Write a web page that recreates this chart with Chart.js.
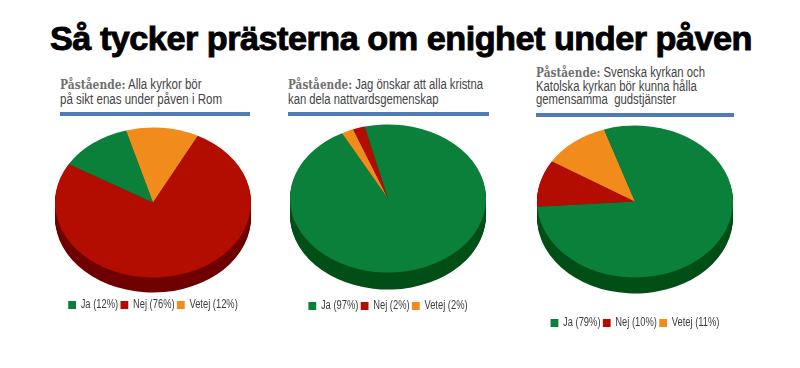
<!DOCTYPE html>
<html lang="sv">
<head>
<meta charset="UTF-8">
<title>Så tycker prästerna om enighet under påven</title>
<script src="https://cdn.jsdelivr.net/npm/chart.js@4.4.0/dist/chart.umd.min.js"></script>
<style>
    body {
        margin: 0;
        width: 800px;
        height: 368px;
        background: #fff;
        position: relative;
        overflow: hidden;
        font-family: "Liberation Sans", sans-serif;
    }
    #title {
        position: absolute;
        left: 50px;
        top: 18px;
        font-size: 34px;
        line-height: 40px;
        font-weight: bold;
        color: #000;
        -webkit-text-stroke: 0.9px #000;
        white-space: nowrap;
        transform-origin: 0 0;
        letter-spacing: -0.5px;
    }
    .claim {
        position: absolute;
        font-size: 14px;
        line-height: 15px;
        color: #444;
        white-space: nowrap;
        transform-origin: 0 0;
    }
    .claim b {
        font-family: "DejaVu Serif", serif;
        color: #707070;
        font-size: 13px;
    }
    .bar {
        position: absolute;
        height: 4px;
        background: #4f7bb7;
    }
    .pie {
        position: absolute;
        width: 240px;
    }
</style>
</head>
<body>
<div id="title">Så tycker prästerna om enighet under påven</div>

<div class="claim" id="claim0" style="left:60px; top:77px;" data-w="162"></div>
<div class="claim" id="claim1" style="left:288px; top:77px;" data-w="195"></div>
<div class="claim" id="claim2" style="left:536px; top:66px; line-height:13.5px;" data-w="169"></div>

<div class="bar" style="left:60px; top:112px; width:190px;"></div>
<div class="bar" style="left:288px; top:112px; width:201px;"></div>
<div class="bar" style="left:536px; top:113px; width:198px;"></div>

<div class="pie" style="left:33px; top:109px; height:212px;"><canvas id="pie0"></canvas></div>
<div class="pie" style="left:268px; top:100px; height:222px;"><canvas id="pie1"></canvas></div>
<div class="pie" style="left:515px; top:89px; height:250px;"><canvas id="pie2"></canvas></div>

<script>
    const categories = ['Ja', 'Nej', 'Vetej'];
    const claimLines = [
        ['Alla kyrkor bör', 'på sikt enas under påven i Rom'],
        ['Jag önskar att alla kristna', 'kan dela nattvardsgemenskap'],
        ['Svenska kyrkan och', 'Katolska kyrkan bör kunna hålla', 'gemensamma  gudstjänster']
    ];
    const values1 = [12, 76, 12];
    const values2 = [97, 2, 2];
    const values3 = [79, 10, 11];

    const topColours = ['#0b803a', '#b30d02', '#f08b1c'];
    const sideColours = ['#024f18', '#700000', '#a05a08'];

    // slice order round the pie (clockwise) and where it starts
    const pies = [
        { values: values1, order: [2, 1, 0], rotation: -16, ratio: 75 / 98, depth: 15 },
        { values: values2, order: [2, 1, 0], rotation: -28, ratio: 74 / 98, depth: 17 },
        { values: values3, order: [1, 2, 0], rotation: -94, ratio: 76 / 98, depth: 16 }
    ];

    // headers
    claimLines.forEach((lines, i) => {
        const el = document.getElementById('claim' + i);
        el.innerHTML = '<b>Påstående:</b> ' + lines.map(l => l.replace(/  /g, ' &nbsp;')).join('<br>');
    });

    // legend is drawn before the datasets, so squeeze it sideways there
    const narrowLegend = {
        id: 'narrowLegend',
        beforeDraw(chart, args, opts) {
            const ctx = chart.ctx;
            const cx = (chart.legend.left + chart.legend.right) / 2;
            ctx.save();
            ctx.translate(cx, 0);
            ctx.scale(opts.scale, 1);
            ctx.translate(-cx, 0);
        },
        beforeDatasetsDraw(chart) {
            chart.ctx.restore();
        }
    };

    // squash a pie into an ellipse and give it a side
    const tilt = {
        id: 'tilt',
        beforeDatasetsDraw(chart, args, opts) {
            const arcs = chart.getDatasetMeta(0).data;
            const ctx = chart.ctx;
            const x = arcs[0].x, y = arcs[0].y;
            for (let d = opts.depth; d >= 1; d--) {
                ctx.save();
                ctx.translate(x, y + d);
                ctx.scale(1, opts.ratio);
                ctx.translate(-x, -y);
                arcs.forEach((a, i) => {
                    ctx.fillStyle = opts.side[i];
                    ctx.beginPath();
                    ctx.moveTo(x, y);
                    ctx.arc(x, y, a.outerRadius, a.startAngle, a.endAngle);
                    ctx.closePath();
                    ctx.fill();
                });
                ctx.restore();
            }
            ctx.save();
            ctx.translate(x, y);
            ctx.scale(1, opts.ratio);
            ctx.translate(-x, -y);
        },
        afterDatasetsDraw(chart) {
            chart.ctx.restore();
        }
    };

    pies.forEach((p, n) => {
        const labels = p.order.map(k => `${categories[k]} (${p.values[k]}%)`);
        new Chart(document.getElementById('pie' + n), {
            type: 'pie',
            data: {
                labels: labels,
                datasets: [{
                    data: p.order.map(k => p.values[k]),
                    backgroundColor: p.order.map(k => topColours[k]),
                    borderWidth: 0,
                    radius: 98,
                    rotation: p.rotation,
                    clip: false
                }]
            },
            options: {
                responsive: true,
                maintainAspectRatio: false,
                animation: false,
                events: [],
                layout: { padding: 0 },
                plugins: {
                    tooltip: { enabled: false },
                    narrowLegend: { scale: 0.78 },
                    tilt: { ratio: p.ratio, depth: p.depth, side: p.order.map(k => sideColours[k]) },
                    legend: {
                        position: 'bottom',
                        labels: {
                            boxWidth: 10,
                            boxHeight: 8,
                            padding: 3,
                            color: '#3c3c3c',
                            font: { family: '"Liberation Sans", sans-serif', size: 12 },
                            sort: (a, b) => p.order[a.index] - p.order[b.index]
                        }
                    }
                }
            },
            plugins: [narrowLegend, tilt]
        });
    });

    // fit the texts to the widths in the picture
    const title = document.getElementById('title');
    title.style.transform = `scaleX(${702 / title.getBoundingClientRect().width})`;
    document.querySelectorAll('.claim').forEach(el => {
        el.style.transform = `scaleX(${el.dataset.w / el.getBoundingClientRect().width})`;
    });
</script>
</body>
</html>
